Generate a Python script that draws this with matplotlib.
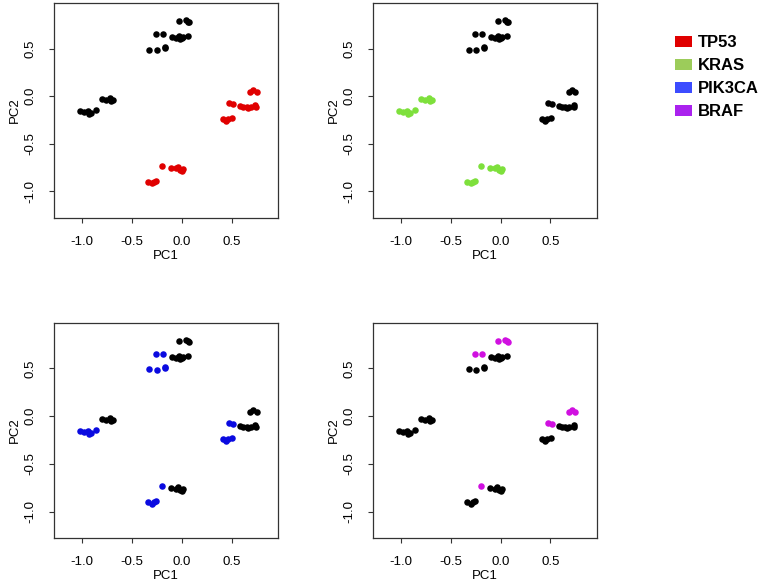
"""PCA scatter panels coloured by mutation status"""
import matplotlib
matplotlib.use("Agg")
from matplotlib import pyplot as plt
from matplotlib.patches import Patch

plt.rcParams['font.family'] = ['Liberation Sans', 'DejaVu Sans']

# sample coordinates (same points in every panel)
pc1 = [-0.023, 0.045, 0.06, 0.075, -0.257, -0.183, -0.10, -0.06, -0.03, -0.02,
       0.0, 0.015, 0.06, -0.323, -0.25, -0.17, -0.165,
       -1.017, -0.983, -0.943, -0.93, -0.91, -0.857, -0.80, -0.757, -0.717,
       -0.707, -0.69,
       0.417, 0.443, 0.467, 0.507, 0.477, 0.517, 0.583, 0.617, 0.65, 0.667,
       0.69, 0.733, 0.74, 0.683, 0.717, 0.75,
       -0.34, -0.30, -0.277, -0.257, -0.193, -0.11, -0.057, -0.033, -0.017,
       0.0, 0.01]
pc2 = [0.786, 0.80, 0.785, 0.78, 0.65, 0.65, 0.62, 0.61, 0.635, 0.60,
       0.61, 0.62, 0.635, 0.49, 0.485, 0.51, 0.52,
       -0.154, -0.165, -0.154, -0.19, -0.172, -0.144, -0.032, -0.039, -0.021,
       -0.049, -0.039,
       -0.239, -0.256, -0.242, -0.225, -0.074, -0.084, -0.102, -0.116, -0.109,
       -0.126, -0.109, -0.091, -0.109, 0.049, 0.067, 0.042,
       -0.898, -0.916, -0.898, -0.891, -0.73, -0.751, -0.758, -0.74, -0.775,
       -0.786, -0.768]

# mutation flags per sample
tp53 = [0] * 17 + [0] * 11 + [1] * 16 + [1] * 11
kras = [0] * 17 + [1] * 11 + [0] * 16 + [1] * 11
pik3ca = ([0, 0, 0, 0, 1, 1, 0, 0, 0, 0, 0, 0, 0, 1, 1, 1, 1]
          + [1, 1, 1, 1, 1, 1, 0, 0, 0, 0, 0]
          + [1, 1, 1, 1, 1, 1, 0, 0, 0, 0, 0, 0, 0, 0, 0, 0]
          + [1, 1, 1, 1, 1, 0, 0, 0, 0, 0, 0])
braf = ([1, 1, 1, 1, 1, 1, 0, 0, 0, 0, 0, 0, 0, 0, 0, 0, 0]
        + [0] * 11
        + [0, 0, 0, 0, 1, 1, 0, 0, 0, 0, 0, 0, 0, 1, 1, 1]
        + [0, 0, 0, 0, 1, 0, 0, 0, 0, 0, 0])

genes = ["TP53", "KRAS", "PIK3CA", "BRAF"]
flags = [tp53, kras, pik3ca, braf]
point_colors = ["#e00000", "#7ee03c", "#0a0ae0", "#d010e0"]
legend_colors = ["#e00000", "#9ccc5a", "#3c4cff", "#aa22ee"]

W, H = 765, 587
fig = plt.figure(figsize=(W / 100, H / 100), dpi=100)

# panel boxes in pixels: left, top, right, bottom
boxes = [(54, 3, 278, 218), (373.3, 3, 596.7, 218),
         (54, 322.7, 278, 538.3), (373.3, 322.7, 596.7, 538.3)]

for box, flag, col in zip(boxes, flags, point_colors):
    l, t, r, b = box
    ax = fig.add_axes([l / W, 1 - b / H, (r - l) / W, (b - t) / H])
    bx = [x for x, f in zip(pc1, flag) if not f]
    by = [y for y, f in zip(pc2, flag) if not f]
    cx = [x for x, f in zip(pc1, flag) if f]
    cy = [y for y, f in zip(pc2, flag) if f]
    ax.scatter(bx, by, s=22, c="black", linewidths=0)
    ax.scatter(cx, cy, s=22, c=col, linewidths=0)
    ax.set_xlim(-1.28, 0.965)
    ax.set_ylim(-1.28, 0.98)
    ax.set_xticks([-1.0, -0.5, 0.0, 0.5])
    ax.set_yticks([-1.0, -0.5, 0.0, 0.5])
    ax.set_xticklabels(["-1.0", "-0.5", "0.0", "0.5"])
    ax.set_yticklabels(["-1.0", "-0.5", "0.0", "0.5"], rotation=90, va="center")
    ax.tick_params(direction="out", length=3.6, width=0.8, labelsize=9.5,
                   pad=9, color="#333333")
    for sp in ax.spines.values():
        sp.set_linewidth(0.9)
        sp.set_color("#333333")
    ax.set_xlabel("PC1", fontsize=9.5, labelpad=1.5)
    ax.set_ylabel("PC2", fontsize=9.5, labelpad=2.5)

handles = [Patch(facecolor=c, edgecolor="none") for c in legend_colors]
fig.legend(handles, genes, loc="upper left", bbox_to_anchor=(675 / W, 1 - 35 / H),
           frameon=False, borderpad=0, borderaxespad=0,
           handlelength=1.0, handleheight=0.62, handletextpad=0.38,
           labelspacing=0.48, prop={"weight": "bold", "size": 12})

fig.savefig("out.png", dpi=100)
